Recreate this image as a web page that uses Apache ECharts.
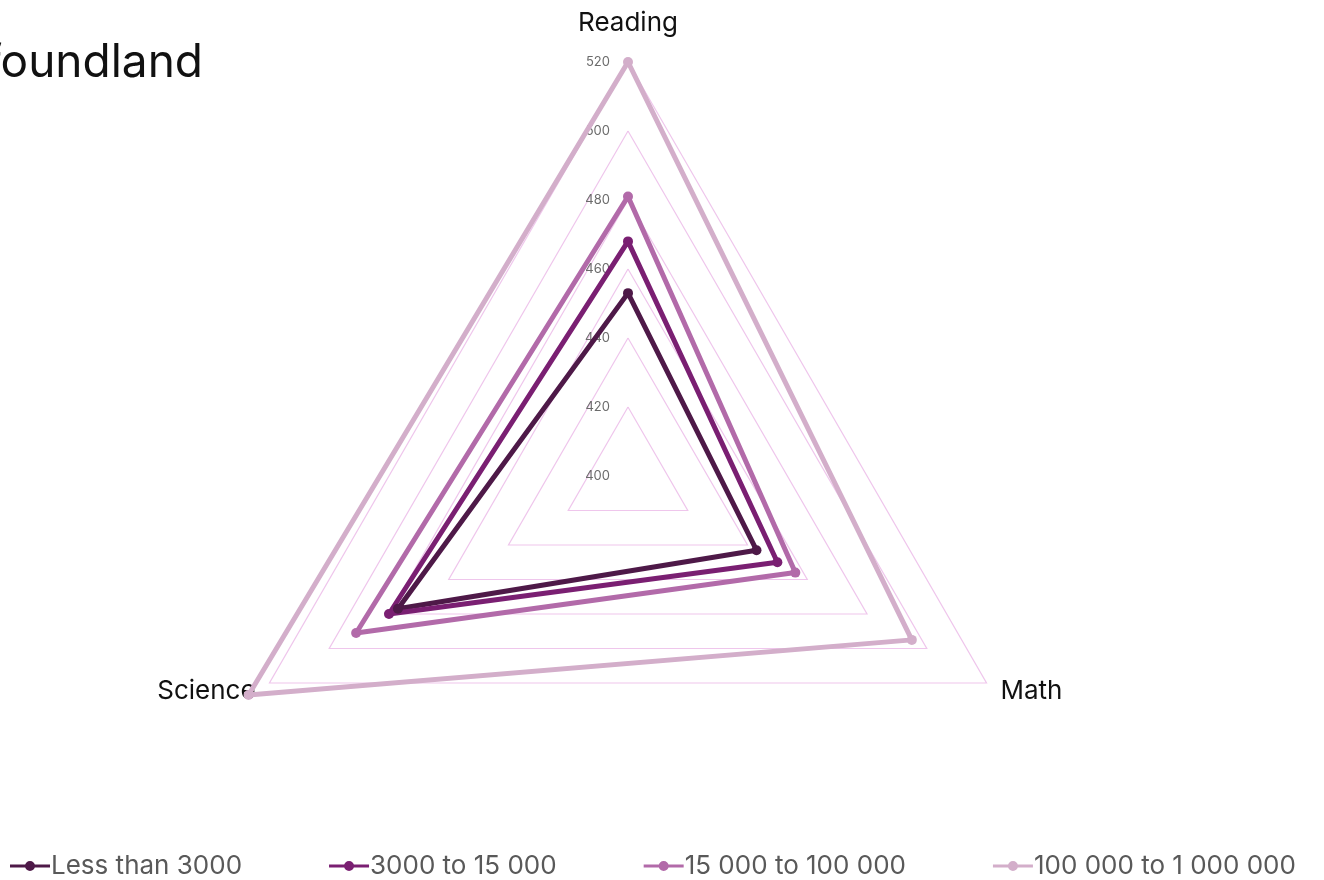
<!DOCTYPE html>
<html>
<head>
<meta charset="utf-8">
<style>
  html, body { margin: 0; padding: 0; background: #ffffff; }
  #chart { width: 1324px; height: 880px; }
</style>
<script src="https://cdn.jsdelivr.net/npm/echarts@6/dist/echarts.min.js"></script>
</head>
<body>
<div id="chart"></div>
<script>
// Average scores by community population, Newfoundland
const titleText = 'Newfoundland';
const subjects = ['Reading', 'Science', 'Math'];
const groups = ['Less than 3000', '3000 to 15 000', '15 000 to 100 000', '100 000 to 1 000 000'];
const readingScores = [453, 468, 481, 520];
const scienceScores = [477, 480, 491, 527];
const mathScores = [443, 450, 456, 495];
const groupColors = ['#4e1948', '#7a1f72', '#b26aa9', '#d3aeca'];
const scaleMin = 400;
const scaleMax = 520;

const FONT = 'Inter';

const chart = echarts.init(document.getElementById('chart'), null, { renderer: 'canvas' });

const indicators = subjects.map((name, i) => ({
  name: name,
  min: scaleMin,
  max: scaleMax,
  nameGap: i === 0 ? 26 : 16,
  // only the vertical axis carries tick labels
  axisLabel: { show: i === 0 }
}));

const seriesData = groups.map((g, i) => ({
  name: g,
  value: [readingScores[i], scienceScores[i], mathScores[i]],
  lineStyle: { color: groupColors[i], width: 5 },
  itemStyle: { color: groupColors[i] },
  symbol: 'circle',
  symbolSize: 10
}));

// legend marker: a short thick line with a dot in the middle
const legendIcon = 'path://M0,3.5 L40,3.5 L40,6.5 L0,6.5 Z M15,5 A5,5 0 1,1 25,5 A5,5 0 1,1 15,5 Z';

const option = {
  backgroundColor: '#ffffff',
  animation: false,
  textStyle: { fontFamily: FONT },
  graphic: [{
    type: 'text',
    x: 203,
    y: 63,
    style: {
      text: titleText,
      fill: '#111111',
      font: '46px ' + FONT,
      textAlign: 'right',
      textVerticalAlign: 'middle'
    }
  }],
  legend: {
    data: groups,
    left: 5,
    top: 848,
    itemWidth: 40,
    itemHeight: 10,
    itemGap: 87,
    icon: legendIcon,
    textStyle: { color: '#595959', fontSize: 26, fontFamily: FONT, padding: [0, 0, 0, -4] }
  },
  radar: {
    center: [628, 476],
    radius: 414,
    startAngle: 90,
    shape: 'polygon',
    splitNumber: 6,
    indicator: indicators,
    axisName: { color: '#111111', fontSize: 26, fontFamily: FONT },
    nameGap: 16,
    axisLine: { show: false },
    axisTick: { show: false },
    axisLabel: { show: false, color: '#6b6b6b', fontSize: 13, margin: 18, fontFamily: FONT },
    splitLine: { lineStyle: { color: '#efc6ec', width: 1.2 } },
    splitArea: { show: false }
  },
  series: [{
    type: 'radar',
    data: seriesData,
    z: 3
  }]
};

chart.setOption(option);
</script>
</body>
</html>
